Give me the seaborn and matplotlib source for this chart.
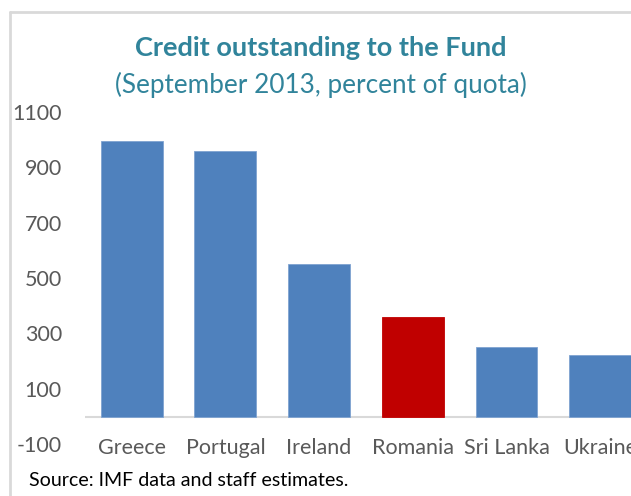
import matplotlib
matplotlib.use("Agg")
import matplotlib.pyplot as plt
from matplotlib.lines import Line2D
import pandas as pd
import seaborn as sns

# Credit outstanding to the Fund, September 2013 (percent of quota)
countries = ["Greece", "Portugal", "Ireland", "Romania", "Sri Lanka", "Ukraine"]
credit_pct_quota = [994, 957, 549, 358, 251, 221]
bar_colors = ["#4F81BD", "#4F81BD", "#4F81BD", "#C00000", "#4F81BD", "#4F81BD"]
y_ticks = [-100, 100, 300, 500, 700, 900, 1100]

title = "Credit outstanding to the Fund"
subtitle = "(September 2013, percent of quota)"
source = "Source: IMF data and staff estimates."

sns.set_theme(style="white")
plt.rcParams["font.family"] = ["Lato", "DejaVu Sans"]

df = pd.DataFrame({"country": countries, "value": credit_pct_quota})

W, H = 631, 496
fig = plt.figure(figsize=(W / 100, H / 100), dpi=100)
fig.patch.set_facecolor("white")

# plot area: wider than the figure so the last category runs off the right edge
left_px, right_px = 84.8, 84.8 + 6 * 93.72
top_px, bottom_px = 111.7, 444.3
ax = fig.add_axes([left_px / W, 1 - bottom_px / H,
                   (right_px - left_px) / W, (bottom_px - top_px) / H])

sns.barplot(data=df, x="country", y="value", hue="country",
            palette=bar_colors, legend=False, width=0.66,
            edgecolor="#7FA3D1", linewidth=0.6, ax=ax, saturation=1)
for patch, c in zip(ax.patches, bar_colors):
    if c == "#C00000":
        patch.set_edgecolor("#C00000")

ax.set_xlim(-0.5, 5.5)
ax.set_ylim(-100, 1100)
ax.set_yticks(y_ticks)
ax.set_yticklabels([str(v) for v in y_ticks])
ax.set_xlabel("")
ax.set_ylabel("")
for s in ax.spines.values():
    s.set_visible(False)
ax.axhline(0, color="#D9D9D9", lw=1.5, zorder=0.5)
ax.grid(False)
ax.tick_params(axis="y", length=0, pad=16.5, labelsize=15.5, labelcolor="#595959")
ax.tick_params(axis="x", length=0, pad=-4.8, labelsize=15.5, labelcolor="#595959")
ax.set_facecolor("none")

# titles
fig.text(320.5 / W, 1 - 48.3 / H, title, ha="center", va="center",
         fontsize=19.5, fontweight="bold", color="#31849B")
fig.text(320.5 / W, 1 - 85 / H, subtitle, ha="center", va="center",
         fontsize=18.8, color="#31849B")
fig.text(29 / W, 1 - 480 / H, source, ha="left", va="center",
         fontsize=14.1, color="black")

# light grey panel frame (top and left edges)
fig.add_artist(Line2D([10 / W, 1.0], [1 - 12 / H, 1 - 12 / H],
                      transform=fig.transFigure, color="#D9D9D9", lw=2))
fig.add_artist(Line2D([10 / W, 10 / W], [0, 1 - 12 / H],
                      transform=fig.transFigure, color="#D9D9D9", lw=2))

fig.savefig("out.png", dpi=100, facecolor="white")
